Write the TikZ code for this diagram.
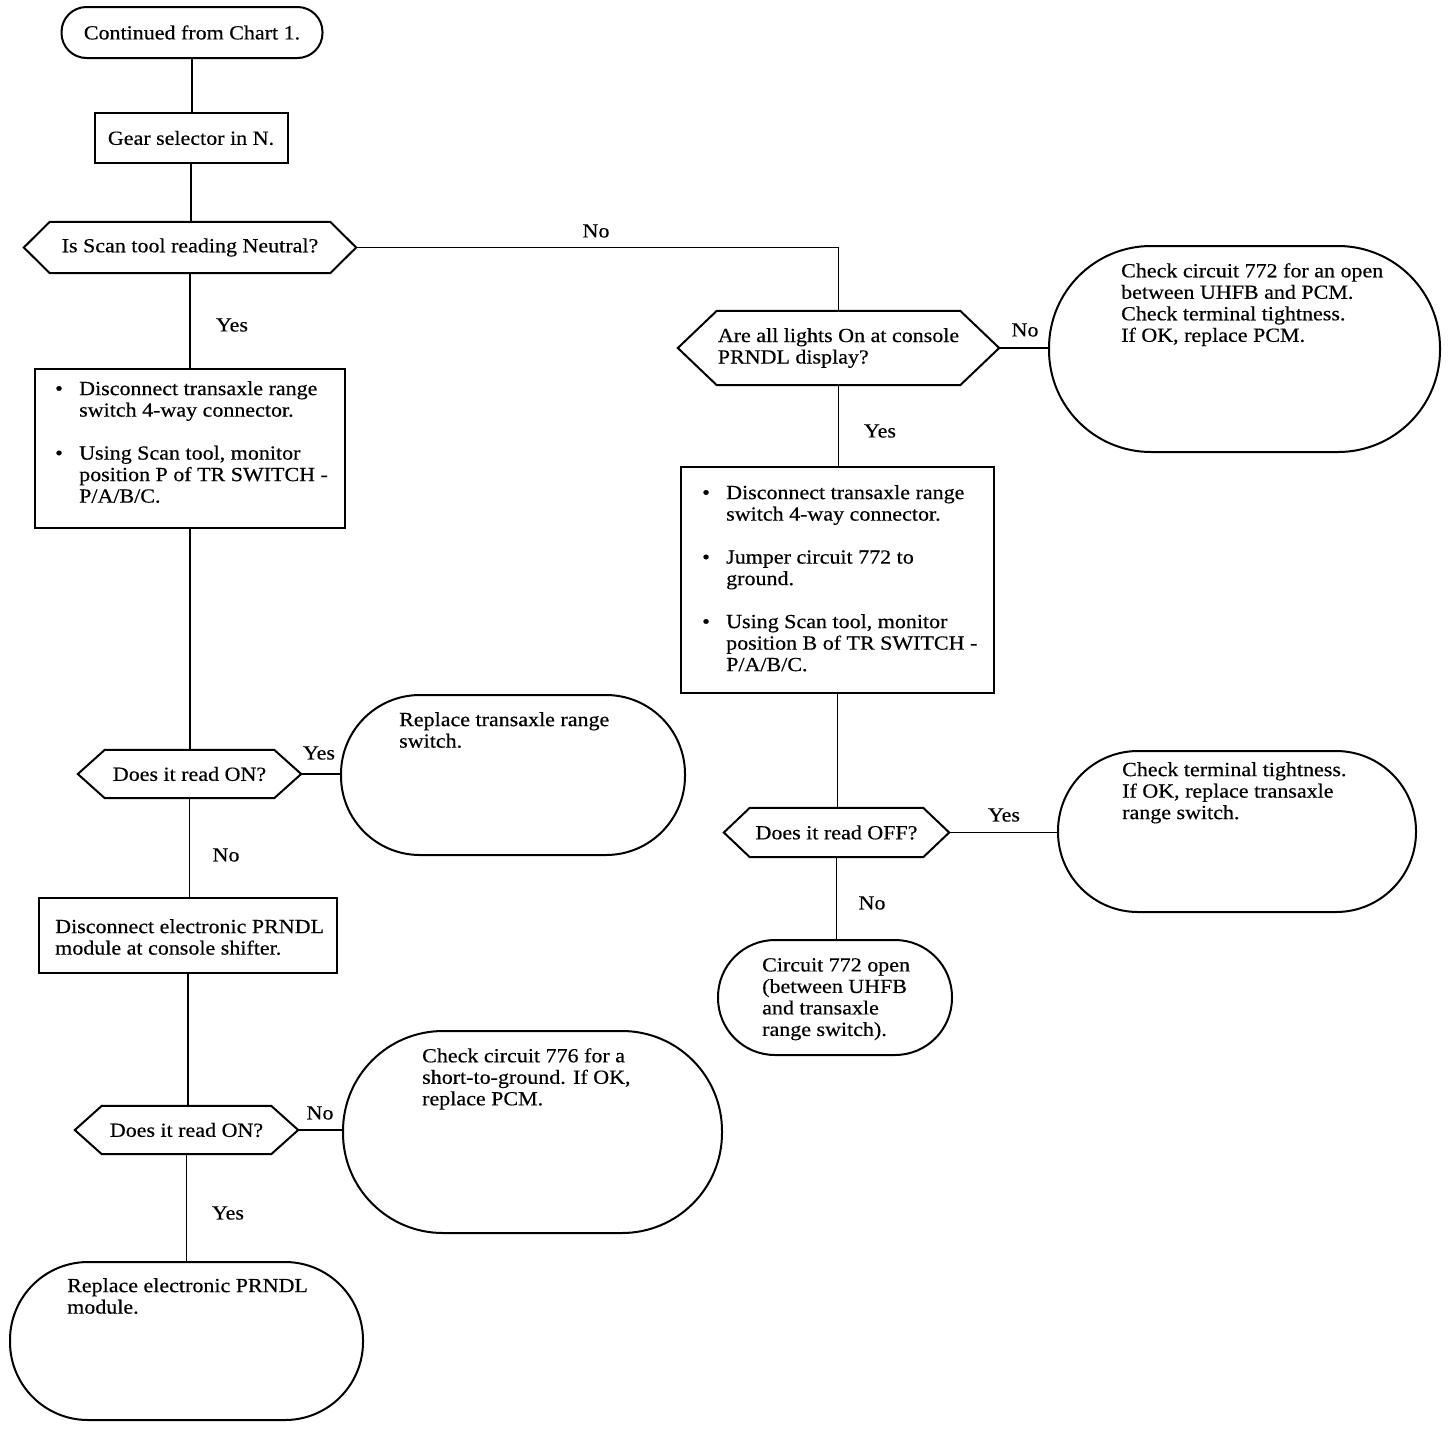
\documentclass[tikz,border=0pt]{standalone}
\usepackage{fontspec}
\setmainfont{Liberation Serif}[FakeStretch=1.1, FakeBold=0.4]
\newcommand{\bulx}{\makebox[24pt][l]{\textbullet}}
\newcommand{\indx}{\hspace*{24pt}}
\begin{document}
\begin{tikzpicture}[x=1pt,y=-1pt,
  every node/.style={font=\fontsize{20}{21.5}\selectfont},
  shp/.style={draw, line width=2pt},
  box/.style={shp, rectangle, inner sep=0pt},
  term/.style={shp, rectangle, rounded corners=#1 pt, inner sep=0pt},
  hexn/.style={rectangle, inner sep=0pt, align=left},
  txt/.style={anchor=north west, inner sep=0pt, align=left},
  lbl/.style={inner sep=0pt},
  link/.style={line width=1.6pt}]
\fill[white] (0,0) rectangle (1456,1430);
\useasboundingbox (0,0) rectangle (1456,1430);

% left column
\node[term=25, minimum width=261pt, minimum height=51pt] (s0) at (192,32.5) {Continued from Chart 1.};
\node[box, minimum width=193pt, minimum height=50pt] (b1) at (191,138) {Gear selector in N.};
\node[hexn, minimum width=332pt, minimum height=51pt] (d1) at (190,247.5) {Is Scan tool reading Neutral?};
\node[box, minimum width=310pt, minimum height=159pt] (b2) at (190,448.5) {};
\node[txt] (b2t) at (55,381) {\bulx Disconnect transaxle range\\ \indx switch 4-way connector.\\[21.5pt] \bulx Using Scan tool, monitor\\ \indx position P of TR SWITCH -\\ \indx P/A/B/C.};
\node[hexn, minimum width=223pt, minimum height=48pt] (d3) at (189.5,774) {Does it read ON?};
\node[term=79, minimum width=344pt, minimum height=160pt] (r1) at (513,775) {};
\node[txt] (r1t) at (399,712) {Replace transaxle range\\switch.};
\node[box, minimum width=298pt, minimum height=75pt] (b3) at (188,935.5) {};
\node[txt] (b3t) at (55,919) {Disconnect electronic PRNDL\\module at console shifter.};
\node[hexn, minimum width=223pt, minimum height=48pt] (d4) at (186.5,1130) {Does it read ON?};
\node[term=100, minimum width=379pt, minimum height=202pt] (r2) at (532.5,1132) {};
\node[txt] (r2t) at (422,1048) {Check circuit 776 for a\\short-to-ground. If OK,\\replace PCM.};
\node[term=78, minimum width=353pt, minimum height=158pt] (r3) at (186.5,1341) {};
\node[txt] (r3t) at (67,1278) {Replace electronic PRNDL\\module.};

% right column
\node[hexn, minimum width=321pt, minimum height=74pt] (d2) at (838.5,348) {Are all lights On at console\\PRNDL display?};
\node[term=102, minimum width=391pt, minimum height=206pt] (r4) at (1244.5,349) {};
\node[txt] (r4t) at (1121,263) {Check circuit 772 for an open\\between UHFB and PCM.\\Check terminal tightness.\\If OK, replace PCM.};
\node[box, minimum width=313pt, minimum height=226pt] (b4) at (837.5,580) {};
\node[txt] (b4t) at (702,485) {\bulx Disconnect transaxle range\\ \indx switch 4-way connector.\\[21.5pt] \bulx Jumper circuit 772 to\\ \indx ground.\\[21.5pt] \bulx Using Scan tool, monitor\\ \indx position B of TR SWITCH -\\ \indx P/A/B/C.};
\node[hexn, minimum width=225pt, minimum height=49pt] (d5) at (836.5,832.5) {Does it read OFF?};
\node[term=80, minimum width=358pt, minimum height=161pt] (r5) at (1237,831.5) {};
\node[txt] (r5t) at (1122,762) {Check terminal tightness.\\If OK, replace transaxle\\range switch.};
\node[term=57, minimum width=234pt, minimum height=115pt] (r6) at (835,997.5) {};
\node[txt] (r6t) at (762,958) {Circuit 772 open\\(between UHFB\\and transaxle\\range switch).};

% hexagon outlines
\foreach \n/\d in {d1/26,d2/39,d3/27,d4/27,d5/26}
  \draw[shp] (\n.west) -- ([xshift=\d pt]\n.north west) -- ([xshift=-\d pt]\n.north east)
    -- (\n.east) -- ([xshift=-\d pt]\n.south east) -- ([xshift=\d pt]\n.south west) -- cycle;

% connectors
\draw[link] (s0.south) -- (s0.south |- b1.north);
\draw[link] (b1.south) -- (b1.south |- d1.north);
\draw[link] (d1.east) -| (d2.north);
\draw[link] (d1.south) -- (d1.south |- b2.north);
\draw[link] (b2.south) -- (b2.south |- d3.north);
\draw[link] (d3.east) -- (d3.east -| r1.west);
\draw[link] (d3.south) -- (d3.south |- b3.north);
\draw[link] (b3.south) -- (b3.south |- d4.north);
\draw[link] (d4.east) -- (d4.east -| r2.west);
\draw[link] (d4.south) -- (d4.south |- r3.north);
\draw[link] (d2.east) -- (d2.east -| r4.west);
\draw[link] (d2.south) -- (d2.south |- b4.north);
\draw[link] (b4.south) -- (b4.south |- d5.north);
\draw[link] (d5.east) -- (d5.east -| r5.west);
\draw[link] (d5.south) -- (d5.south |- r6.north);

% labels
\node[lbl] (l1) at (596,231) {No};
\node[lbl] (l2) at (232,325) {Yes};
\node[lbl] (l3) at (319,753) {Yes};
\node[lbl] (l4) at (226,855) {No};
\node[lbl] (l5) at (320,1113) {No};
\node[lbl] (l6) at (228,1213) {Yes};
\node[lbl] (l7) at (1025,330) {No};
\node[lbl] (l8) at (880,431) {Yes};
\node[lbl] (l9) at (1004,815) {Yes};
\node[lbl] (l10) at (872,903) {No};
\end{tikzpicture}
\end{document}
